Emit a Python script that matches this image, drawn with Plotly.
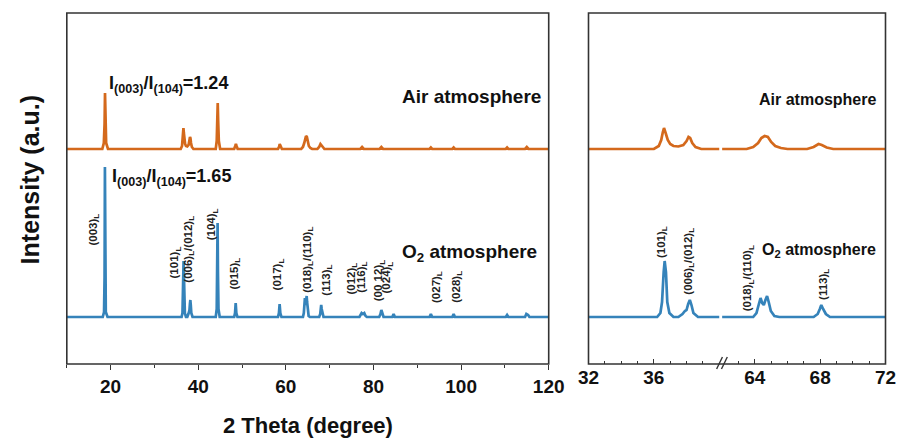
import plotly.graph_objects as go

# ---------------- data (2-theta in degrees, intensity in a.u. above baseline) ----------------
o2_theta = [10, 18.2, 18.5, 18.62, 18.7, 18.78, 18.9, 19.3,
            36.2, 36.4, 36.5, 36.6, 36.66, 36.74, 36.82, 36.95, 37.2,
            37.5, 37.75, 37.9, 38.0, 38.1, 38.2, 38.3, 38.42, 38.7,
            44.0, 44.22, 44.34, 44.42, 44.5, 44.62, 44.9,
            48.2, 48.4, 48.55, 48.7, 48.95,
            58.2, 58.42, 58.58, 58.74, 59.0,
            63.9, 64.1, 64.25, 64.35, 64.45, 64.55, 64.65, 64.75, 64.85, 64.98, 65.2, 65.5,
            67.6, 67.85, 67.98, 68.07, 68.18, 68.35, 68.6,
            76.8, 77.1, 77.3, 77.6, 77.9, 78.2, 78.5,
            81.3, 81.6, 81.8, 82.0, 82.3,
            84.3, 84.6, 84.9,
            92.8, 93.1, 93.4,
            98.0, 98.3, 98.6,
            110.2, 110.5, 110.8,
            114.6, 114.9, 115.3, 115.6, 120]
o2_int = [0, 0, 5, 40, 150, 40, 5, 0,
          0, 4, 15, 45, 56, 45, 15, 4, 0,
          0, 3, 6, 7, 13, 17, 12, 4, 0,
          0, 8, 45, 94, 45, 8, 0,
          0, 4, 14, 4, 0,
          0, 4, 13, 4, 0,
          0, 4, 13, 19, 14, 12, 17, 21, 15, 6, 1, 0,
          0, 3, 8, 12, 8, 3, 0,
          0, 3, 4, 3, 4, 1, 0,
          0, 3, 7, 3, 0,
          0, 3, 0,
          0, 3, 0,
          0, 3, 0,
          0, 2, 0,
          0, 3, 2, 0, 0]

air_theta = [10, 18.1, 18.45, 18.62, 18.72, 18.82, 18.98, 19.4,
             36.0, 36.3, 36.45, 36.55, 36.62, 36.72, 36.85, 37.0, 37.2, 37.5,
             37.8, 38.0, 38.12, 38.22, 38.35, 38.55, 38.9,
             44.0, 44.22, 44.36, 44.45, 44.55, 44.7, 45.0,
             48.2, 48.45, 48.6, 48.75, 49.0,
             58.2, 58.45, 58.6, 58.8, 59.1,
             63.5, 63.9, 64.2, 64.4, 64.6, 64.8, 65.0, 65.25, 65.6, 66.0,
             67.2, 67.6, 67.9, 68.1, 68.4, 68.8,
             77.0, 77.4, 77.8,
             81.4, 81.8, 82.2,
             92.8, 93.1, 93.4,
             98.0, 98.3, 98.6,
             110.2, 110.5, 110.8,
             114.6, 115.0, 115.4, 120]
air_int = [0, 0, 6, 25, 56, 25, 6, 0,
           0, 3, 9, 17, 21, 16, 9, 5, 3, 2.5,
           4, 8, 12, 11, 6, 2, 0,
           0, 8, 28, 46, 28, 8, 0,
           0, 3, 5, 3, 0,
           0, 2, 5, 2, 0,
           0, 2, 6, 11, 13, 12, 7, 3, 1, 0,
           0, 2, 5, 4, 1.5, 0,
           0, 2, 0,
           0, 2, 0,
           0, 1.5, 0,
           0, 1.5, 0,
           0, 1.5, 0,
           0, 2, 0, 0]

air_offset = 168

left_ticks = [20, 40, 60, 80, 100, 120]
right_ticks_a = [32, 36]
right_ticks_b = [64, 68, 72]

peak_labels_left = ["(003)", "(101)", "(006)<sub>L</sub>/(012)", "(104)", "(015)", "(017)",
                    "(018)<sub>L</sub>/(110)", "(113)", "(012)", "(116)", "(00 12)", "(024)",
                    "(027)", "(028)"]
peak_label_x_left = [16.1, 34.8, 37.7, 43.2, 48.3, 58.3, 65.0, 69.2, 75.0, 77.2, 81.2, 83.2, 94.5, 99.0]
peak_label_y_left = [69, 37, 32, 75, 25, 25, 22, 19, 20, 22, 14, 22, 12, 12]

peak_labels_right = ["(101)", "(006)<sub>L</sub>/(012)", "(018)<sub>L</sub>/(110)", "(113)"]
peak_label_x_right = [36.5, 38.1, 63.6, 68.2]
peak_label_y_right = [57, 20, 4, 15]
peak_label_axis_right = ["x2", "x2", "x3", "x3"]

# ---------------- styles ----------------
ORANGE = "#D4691C"
BLUE = "#3583BA"
FRAME = "#333333"
FONT = "Liberation Sans, Arial, sans-serif"
W, H = 918, 441

def px(x):
    return x / W

def py(y):
    return 1 - y / H

xl = [px(57.5), px(554)]
xa = [px(595), px(729.7)]
xb = [px(732.7), px(901)]
yd = [py(364), py(13)]
yrange = [-47, 304]

fig = go.Figure()
air_y = [v + air_offset for v in air_int]
for xs, ys, col, name in [(air_theta, air_y, ORANGE, "Air"), (o2_theta, o2_int, BLUE, "O2")]:
    for xax, yax in [("x", "y"), ("x2", "y2"), ("x3", "y2")]:
        fig.add_trace(go.Scatter(x=xs, y=ys, mode="lines", xaxis=xax, yaxis=yax,
                                 line=dict(color=col, width=2.7), name=name,
                                 showlegend=False, hoverinfo="skip"))

tickfont = dict(family=FONT, size=19, color="#111111", weight="bold")
fig.update_layout(
    width=W, height=H, margin=dict(l=0, r=0, t=0, b=0),
    paper_bgcolor="white", plot_bgcolor="white",
    xaxis=dict(domain=xl, range=[10, 120], tickvals=left_ticks, ticks="outside", ticklen=5,
               tickwidth=1.3, tickcolor=FRAME, tickfont=tickfont, showgrid=False, zeroline=False,
               minor=dict(dtick=10, tick0=10, ticks="outside", ticklen=3, tickcolor=FRAME, showgrid=False),
               anchor="y"),
    yaxis=dict(domain=yd, range=yrange, showticklabels=False, showgrid=False, zeroline=False,
               ticks="", anchor="x"),
    xaxis2=dict(domain=xa, range=[32, 40], tickvals=right_ticks_a, ticks="inside", ticklen=5,
                tickwidth=1.3, tickcolor=FRAME, tickfont=tickfont, showgrid=False, zeroline=False,
                minor=dict(dtick=1, tick0=32, ticks="inside", ticklen=3, tickcolor=FRAME, showgrid=False),
                anchor="y2"),
    xaxis3=dict(domain=xb, range=[62, 72], tickvals=right_ticks_b, ticks="inside", ticklen=5,
                tickwidth=1.3, tickcolor=FRAME, tickfont=tickfont, showgrid=False, zeroline=False,
                minor=dict(dtick=1, tick0=62, ticks="inside", ticklen=3, tickcolor=FRAME, showgrid=False),
                anchor="y2"),
    yaxis2=dict(domain=yd, range=yrange, showticklabels=False, showgrid=False, zeroline=False,
                ticks="", anchor="x2"),
)

shapes = []
for x0, x1 in [(xl[0], xl[1]), (xa[0], xb[1])]:
    shapes.append(dict(type="rect", xref="paper", yref="paper", x0=x0, x1=x1, y0=yd[0], y1=yd[1],
                       line=dict(color=FRAME, width=1.6), fillcolor="rgba(0,0,0,0)", layer="above"))
# axis break marks
for dx in [0, 5]:
    shapes.append(dict(type="line", xref="paper", yref="paper",
                       x0=px(727 + dx), y0=py(369), x1=px(733 + dx), y1=py(357),
                       line=dict(color=FRAME, width=1.4)))
fig.update_layout(shapes=shapes)

ann = []
ann.append(dict(text="<b>2 Theta (degree)</b>", xref="paper", yref="paper", x=(xl[0] + xl[1]) / 2,
                y=py(425), showarrow=False, font=dict(family=FONT, size=22, color="#111111"),
                xanchor="center", yanchor="middle"))
ann.append(dict(text="<b>Intensity (a.u.)</b>", xref="paper", yref="paper", x=px(20), y=py(180),
                textangle=-90, showarrow=False, font=dict(family=FONT, size=25, color="#111111"),
                xanchor="center", yanchor="middle"))
ann.append(dict(text="<b>I<sub>(003)</sub>/I<sub>(104)</sub>=1.24</b>", xref="paper", yref="paper",
                x=px(99), y=py(84), showarrow=False, font=dict(family=FONT, size=18, color="#111111"),
                xanchor="left", yanchor="middle"))
ann.append(dict(text="<b>I<sub>(003)</sub>/I<sub>(104)</sub>=1.65</b>", xref="paper", yref="paper",
                x=px(102), y=py(178), showarrow=False, font=dict(family=FONT, size=18, color="#111111"),
                xanchor="left", yanchor="middle"))
for txt, xr, yc, sz in [("Air atmosphere", 548, 97, 19), ("O<sub>2</sub> atmosphere", 544, 253, 19),
                         ("Air atmosphere", 893, 100, 16), ("O<sub>2</sub> atmosphere", 893, 250, 16)]:
    ann.append(dict(text="<b>" + txt + "</b>", xref="paper", yref="paper", x=px(xr), y=py(yc),
                    showarrow=False, font=dict(family=FONT, size=sz, color="#111111"),
                    xanchor="right", yanchor="middle"))

lab_font = dict(family=FONT, size=11.5, color="#222222", weight="bold")
for t, x, y in zip(peak_labels_left, peak_label_x_left, peak_label_y_left):
    ann.append(dict(text=t + "<sub>L</sub>", xref="x", yref="y", x=x, y=y, textangle=-90,
                    showarrow=False, font=lab_font, xanchor="center", yanchor="bottom"))
for t, x, y, xa_ in zip(peak_labels_right, peak_label_x_right, peak_label_y_right, peak_label_axis_right):
    ann.append(dict(text=t + "<sub>L</sub>", xref=xa_, yref="y2", x=x, y=y, textangle=-90,
                    showarrow=False, font=lab_font, xanchor="center", yanchor="bottom"))
fig.update_layout(annotations=ann)

fig.write_html("out.html", config={"displayModeBar": False},
               post_script="document.body.style.margin='0px';document.body.style.overflow='hidden';")
